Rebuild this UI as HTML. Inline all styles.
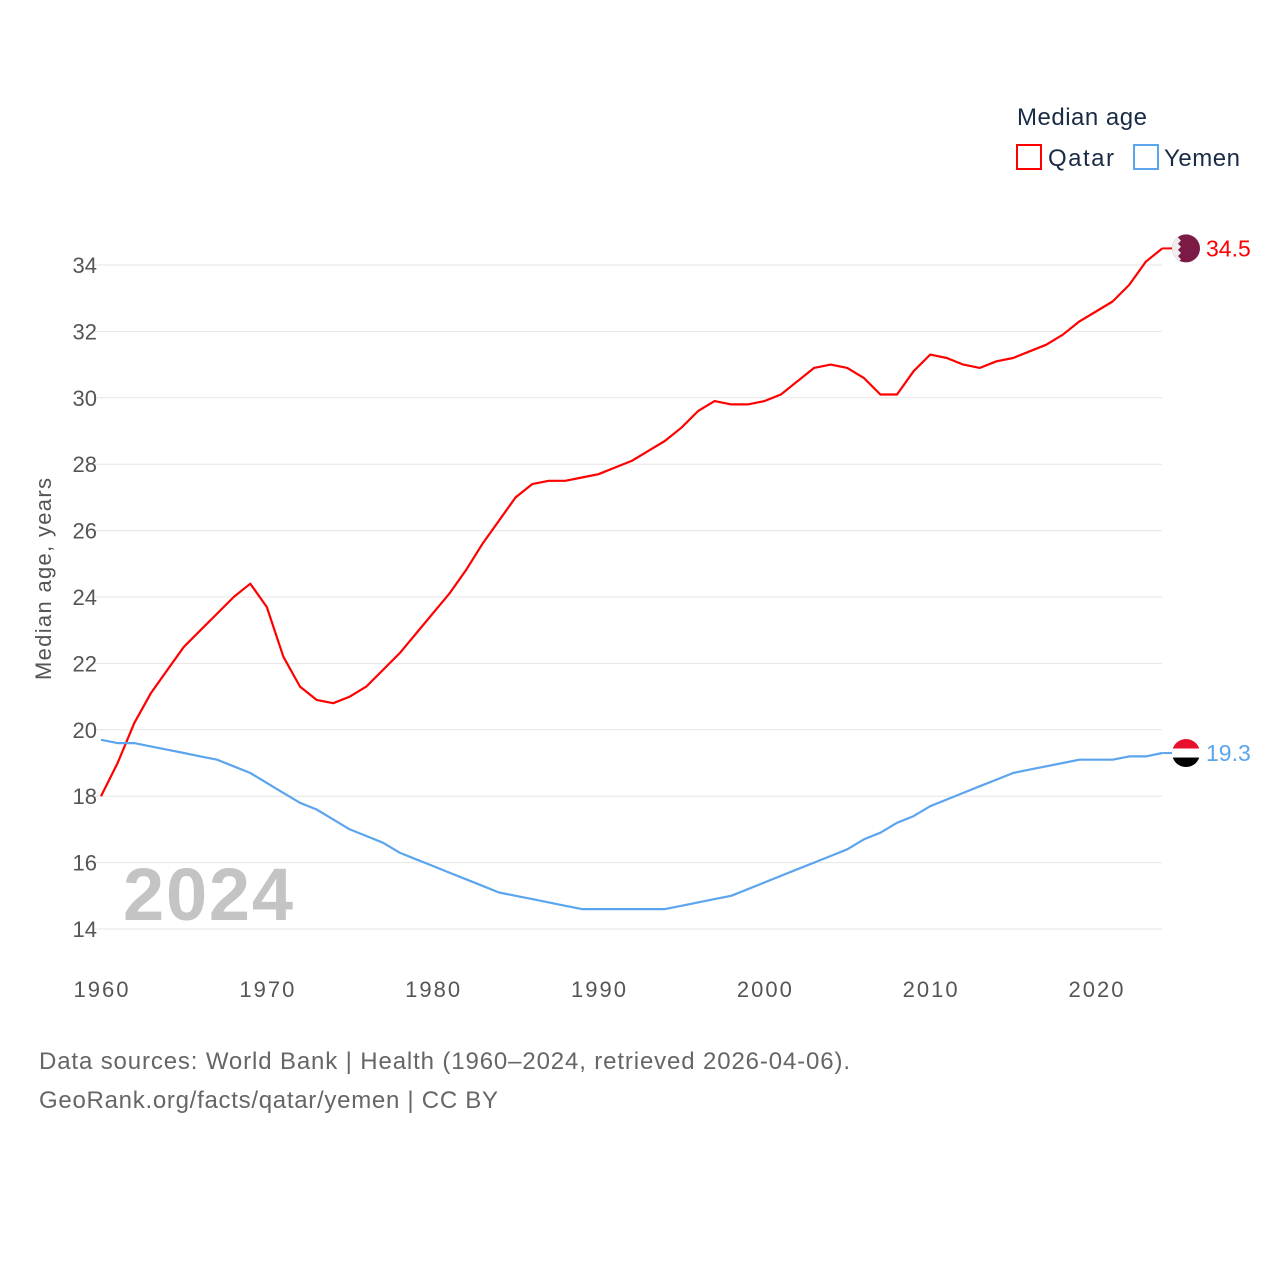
<!DOCTYPE html>
<html><head><meta charset="utf-8"><style>
html,body{margin:0;padding:0;background:#fff;}
svg{display:block;font-family:"Liberation Sans",sans-serif;}
</style></head><body>
<svg id="chart" width="1280" height="1280" viewBox="0 0 1280 1280">
<text x="1017" y="125" font-size="24" fill="#1a2b45" textLength="130">Median age</text>
<g>
<rect x="1017" y="145" width="24" height="24" fill="none" stroke="#ff0000" stroke-width="2"/>
<text x="1048" y="166" font-size="24" fill="#1a2b45" textLength="66">Qatar</text>
</g>
<g>
<rect x="1134" y="145" width="24" height="24" fill="none" stroke="#5ba4ee" stroke-width="2"/>
<text x="1164" y="166" font-size="24" fill="#1a2b45" textLength="76">Yemen</text>
</g>
<g id="grid"></g>
<text x="123" y="920" font-size="74" font-weight="bold" fill="#c4c4c4" textLength="170">2024</text>
<text transform="translate(51,579) rotate(-90)" text-anchor="middle" font-size="22" fill="#555" textLength="202">Median age, years</text>
<g id="series"></g>
<text x="39" y="1069" font-size="24" fill="#666" textLength="811">Data sources: World Bank | Health (1960–2024, retrieved 2026-04-06).</text>
<text x="39" y="1108" font-size="24" fill="#666" textLength="459">GeoRank.org/facts/qatar/yemen | CC BY</text>
</svg>
<script>
const years=[];for(let y=1960;y<=2024;y++)years.push(y);
const qatar=[18.0,19.0,20.2,21.1,21.8,22.5,23.0,23.5,24.0,24.4,23.7,22.2,21.3,20.9,20.8,21.0,21.3,21.8,22.3,22.9,23.5,24.1,24.8,25.6,26.3,27.0,27.4,27.5,27.5,27.6,27.7,27.9,28.1,28.4,28.7,29.1,29.6,29.9,29.8,29.8,29.9,30.1,30.5,30.9,31.0,30.9,30.6,30.1,30.1,30.8,31.3,31.2,31.0,30.9,31.1,31.2,31.4,31.6,31.9,32.3,32.6,32.9,33.4,34.1,34.5];
const yemen=[19.7,19.6,19.6,19.5,19.4,19.3,19.2,19.1,18.9,18.7,18.4,18.1,17.8,17.6,17.3,17.0,16.8,16.6,16.3,16.1,15.9,15.7,15.5,15.3,15.1,15.0,14.9,14.8,14.7,14.6,14.6,14.6,14.6,14.6,14.6,14.7,14.8,14.9,15.0,15.2,15.4,15.6,15.8,16.0,16.2,16.4,16.7,16.9,17.2,17.4,17.7,17.9,18.1,18.3,18.5,18.7,18.8,18.9,19.0,19.1,19.1,19.1,19.2,19.2,19.3];
const yTicks=[14,16,18,20,22,24,26,28,30,32,34];
const xTicks=[1960,1970,1980,1990,2000,2010,2020];
const NS='http://www.w3.org/2000/svg';
const xS=y=>101+(y-1960)*(1096-101)/60;
const yS=v=>929-(v-14)*(929-265)/20;
function mk(t,a,p){const e=document.createElementNS(NS,t);for(const k in a)e.setAttribute(k,a[k]);p.appendChild(e);return e;}
const grid=document.getElementById('grid'),ser=document.getElementById('series');
yTicks.forEach(v=>{
 const l=mk('line',{x1:95,x2:1162,y1:yS(v),y2:yS(v),stroke:'#e6e6e6','stroke-width':1},grid);
 
 
 const t=mk('text',{x:97,y:yS(v)+8,'text-anchor':'end','font-size':22,fill:'#555'},grid);t.textContent=v;
 
 
});
xTicks.forEach(y=>{
 const t=mk('text',{x:xS(y),y:997,'text-anchor':'middle','font-size':22,fill:'#555',textLength:55},grid);t.textContent=y;
 
 
});
function line(vals,color,name){
 const d=vals.map((v,i)=>(i?'L':'M')+xS(years[i]).toFixed(1)+','+yS(v).toFixed(1)).join('');
 const p=mk('path',{d:d,fill:'none',stroke:color,'stroke-width':2.2,'stroke-linejoin':'round'},ser);
 
 
 const lv=vals[vals.length-1],ly=yS(lv),lx=xS(years[years.length-1]);
 const c=mk('line',{x1:lx,x2:1172,y1:ly,y2:ly,stroke:color,'stroke-width':2},ser);
 
 
 return ly;
}
const qy=line(qatar,'#ff0000','qatar');
const yy=line(yemen,'#5ba4ee','yemen');
const qf=mk('g',{},ser);


const qcp=mk('clipPath',{id:'qc'},qf);mk('circle',{cx:1186,cy:qy,r:14},qcp);
mk('circle',{cx:1186,cy:qy,r:14,fill:'#7a1a45'},qf);
mk('path',{d:`M1172,${qy-14}h9l-3,3.1l3,3.1l-3,3.1l3,3.1l-3,3.1l3,3.1l-3,3.1l3,3.1l-3,3.1h-6z`,fill:'#eee','clip-path':'url(#qc)'},qf);
const qt=mk('text',{x:1206,y:qy+8,'font-size':23,fill:'#ff0000'},ser);qt.textContent=qatar[qatar.length-1];


const yf=mk('g',{},ser);


const cp=mk('clipPath',{id:'yc'},yf);mk('circle',{cx:1186,cy:yy,r:14},cp);
mk('rect',{x:1172,y:yy-14,width:28,height:9.5,fill:'#e8112d','clip-path':'url(#yc)'},yf);
mk('rect',{x:1172,y:yy-4.5,width:28,height:9,fill:'#fff','clip-path':'url(#yc)'},yf);
mk('rect',{x:1172,y:yy+4.5,width:28,height:9.5,fill:'#000','clip-path':'url(#yc)'},yf);
const yt=mk('text',{x:1206,y:yy+8,'font-size':23,fill:'#5ba4ee'},ser);yt.textContent=yemen[yemen.length-1];


</script>
</body></html>
